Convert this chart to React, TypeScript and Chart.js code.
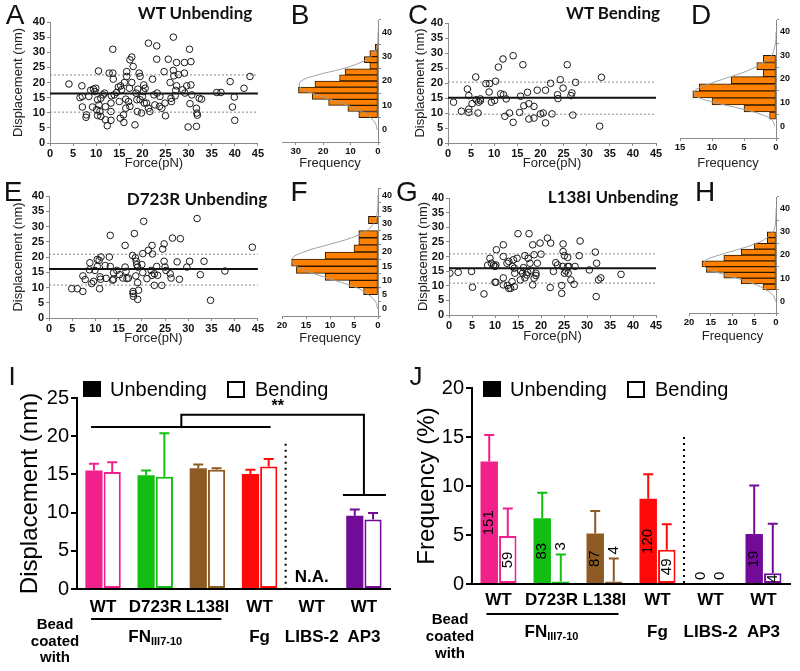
import React, { useEffect, useRef } from 'react';
import { Chart, registerables } from 'chart.js';
Chart.register(...registerables);

const SANS = '"Liberation Sans", Arial, Helvetica, sans-serif';
const TITLE_FONT = 'Lato, "Open Sans", sans-serif';

type Pt = [number, number];

// ---------- Scatter data: [force (pN), displacement (nm)] ----------
const wtUnbendingPoints: Pt[] = [
  [4.1, 19.5], [6.9, 18.9], [6.5, 15], [7, 15.4], [7, 11.9], [7.9, 9.3], [7.8, 8.5], [8.4, 15.4], [8.8, 17.4], [9.4, 17.8],
  [9.9, 18.1], [9.7, 17], [9.2, 11.9], [10.1, 11], [10.6, 12.6], [10.3, 9.1], [11, 8.8], [10.5, 23.8], [10.3, 14.3], [11, 14.8],
  [11.5, 15.9], [11.8, 16.5], [10.8, 10.4], [12, 12], [12, 7.7], [12.4, 5.7], [12.8, 23.1], [13.6, 31], [13.6, 23.1], [13.7, 21.1],
  [13.3, 15.6], [13.2, 13.2], [13.2, 10.4], [13.2, 7.5], [13.9, 15.9], [14.4, 16.7], [14.8, 18.5], [15.3, 18.9], [15.5, 17.6], [15, 13.7],
  [15.2, 8.2], [15.9, 9.3], [16, 6.8], [16.1, 20], [16.6, 22], [16.6, 23.6], [16.4, 14.5], [16.4, 11.5], [17, 13.7], [17.3, 12.1],
  [17.2, 18.1], [17.7, 20], [17.3, 27.5], [17.7, 28.4], [18, 25.3], [18.4, 6], [18.6, 16.5], [18.8, 14.3], [18.9, 10.4], [19, 17.8],
  [19.3, 23.1], [19.5, 22], [19.5, 14.3], [19.8, 9.9], [20, 15.4], [20.2, 17], [20.3, 19.2], [20.6, 18.1], [20.4, 13.2], [20.9, 13.2],
  [21.3, 33], [21.3, 11.5], [21.6, 10.4], [22.2, 21.1], [22.5, 15.9], [22.7, 12.6], [23.1, 32.1], [23.1, 27.7], [23.2, 16.5], [23.7, 12.1],
  [23.8, 15.4], [24.2, 11.5], [24.7, 23.6], [24.9, 13.2], [25, 9], [25.6, 27.7], [26, 20], [26.2, 14.8], [26.3, 13.7], [26.7, 35],
  [26.7, 24], [26.8, 22.2], [27.1, 15.6], [27.2, 17.4], [27.4, 26.6], [27.4, 18.9], [27.8, 22.6], [28.7, 17.6], [29.1, 26.6], [29.1, 23.1],
  [29.2, 16.5], [29.6, 18.9], [29.9, 5.3], [30.2, 31], [30.3, 13], [30.5, 26.9], [30.5, 19.2], [30.7, 15.9], [31.7, 5.5], [31.7, 11.5],
  [31.8, 9.9], [31.9, 9.2], [32.3, 14.8], [32.8, 14.5], [36.1, 16.7], [37, 16.7], [39, 20.3], [39.9, 15.2], [39.5, 11.9], [40, 7.5],
  [42, 18.1], [43.3, 22],
];

const wtBendingPoints: Pt[] = [
  [1.2, 13.6], [2.9, 10.6], [4.2, 18], [4.5, 15.8], [4.5, 11.3], [4.5, 10.2], [5.2, 13.1], [6, 22], [6.1, 14.4], [6.5, 10],
  [6.6, 13.6], [7, 14.7], [7, 14.1], [8.2, 19.8], [9, 19.8], [8.9, 17], [9.4, 13.6], [10.1, 14.2], [10.3, 20.6], [10.9, 25.3],
  [11.4, 16.4], [11.9, 28], [12, 16.1], [12.3, 8.9], [12.6, 14.7], [13.3, 10], [14.1, 29.1], [14.1, 6.9], [15.5, 10.2], [15.7, 15.6],
  [16.2, 26.1], [16.4, 12.4], [17.2, 16.9], [17.5, 13.1], [17.5, 8], [18.6, 8.3], [18.6, 12.2], [19.3, 17.6], [20, 9.7], [20.6, 10],
  [21.1, 17.6], [21.1, 6.7], [22.2, 19.9], [22.5, 9.7], [23.7, 16.1], [23.8, 14.8], [24.3, 21.1], [24.9, 18.3], [25.8, 26.1], [26.6, 15.8],
  [26.8, 16.7], [27, 9.3], [27.6, 20.2], [32.8, 5.6], [33.2, 21.9],
];

const d723rUnbendingPoints: Pt[] = [
  [4.9, 9.6], [6.1, 9.6], [7.3, 8.7], [7.3, 13.8], [7.8, 12.6], [8.7, 15.8], [8.8, 18.1], [9.2, 11.3], [9.6, 12], [9.9, 15.6],
  [10.4, 16.9], [10.4, 19.2], [10.8, 18.9], [11.2, 20], [11, 13.5], [10.9, 9.6], [11.1, 12.7], [12.1, 17.2], [12.3, 13], [13, 20],
  [13.2, 27.1], [13.2, 16.9], [13.7, 12.4], [13.9, 14.8], [13.9, 12.7], [14.6, 15.6], [15.2, 14.2], [15.9, 13.1], [16.4, 23.8], [16.4, 16.7],
  [16.6, 15.3], [16.8, 12.9], [17.1, 13.1], [18, 20.5], [18.1, 8.7], [18.1, 8], [18.2, 7.1], [18.4, 27.7], [18.6, 19.7], [18.7, 13.8],
  [18.8, 18.6], [18.9, 17.5], [19.1, 11.6], [19.1, 6.1], [19.3, 9.1], [19.1, 16.7], [20, 17.5], [20.2, 14.9], [20.4, 31.7], [20.2, 21.1],
  [21.1, 12.9], [21.4, 22.2], [22, 15.6], [22.2, 14], [22.2, 23.8], [22.3, 21], [22.7, 14.5], [22.7, 10.7], [23.2, 16.9], [23.4, 14],
  [24.3, 10.7], [24.5, 22.6], [24.8, 24.3], [24.8, 18.6], [25, 16.7], [25.2, 15.6], [26.1, 14.5], [26.3, 13.1], [26.6, 26.2], [27.6, 18.4],
  [28.1, 12.7], [28.3, 26], [29.7, 16.7], [30.3, 18.6], [31.9, 32.6], [32.6, 14.2], [33.4, 18.6], [34.8, 5.8], [37.9, 15.4], [43.8, 23.2],
];

const l138iUnbendingPoints: Pt[] = [
  [0.2, 14.3], [2, 14.6], [5.1, 9.5], [4.9, 14.9], [7.6, 7.2], [8.4, 17], [8.9, 19.4], [9.2, 17.7], [9.7, 17.1], [10, 16.6],
  [10, 11.2], [10.2, 17.1], [10.3, 22.3], [10.2, 11.2], [11.8, 20], [11.8, 24], [11.8, 12.7], [11.8, 10.3], [12.6, 17.7], [13, 18.3],
  [12.7, 10.1], [13, 9.1], [13.4, 9.1], [13.7, 11.4], [13.8, 16.6], [14.2, 9.7], [14, 18.9], [14.3, 14.3], [14.2, 16], [14.8, 19.4],
  [15, 27.8], [15.5, 12], [15.6, 15.1], [16, 14.3], [16.2, 16.2], [16.5, 20.3], [16.5, 12.7], [16.9, 13.7], [17.1, 14.6], [17.2, 19.4],
  [17.4, 27.8], [17.6, 17.7], [17.8, 15.1], [18.2, 24], [18.2, 10.3], [18.5, 12.6], [18.5, 20.6], [18.9, 14.3], [18.9, 13.5], [19.2, 17.7],
  [19.8, 24.6], [20, 20.8], [22, 9.4], [21.4, 26.3], [22.1, 24.6], [22.7, 14.9], [23.2, 17.9], [23.6, 17.1], [24.5, 10.1], [24.5, 7.4],
  [24.7, 16.6], [24.8, 24.3], [24.8, 21.7], [25.1, 20.3], [25.1, 14.3], [25.4, 15.1], [25.8, 19.7], [25.8, 16.6], [25.9, 14.3], [26.1, 16.6],
  [26.5, 12], [27.2, 10.5], [27.4, 16.6], [28.3, 20.3], [28.5, 25.3], [30.5, 15.4], [31.8, 21.5], [32, 6.3], [32.1, 17.7], [32.5, 12],
  [33, 12.7], [37.4, 13.9],
];

// mean, lower dotted, upper dotted (nm)
const wtUnbendingLines = [16.4, 10.2, 22.5];
const wtBendingLines = [15.1, 9.6, 20.3];
const d723rUnbendingLines = [16.1, 10.8, 20.9];
const l138iUnbendingLines = [16.0, 10.9, 20.9];

// ---------- Histograms (bin lower edge in nm, counts) ----------
const wtUnbendingBinLow = [5, 7.5, 10, 12.5, 15, 17.5, 20, 22.5, 25, 27.5, 30, 32.5];
const wtUnbendingCounts = [7, 11, 18, 24, 29, 23, 14, 12, 3, 5, 3, 1];
const wtBendingBinLow = [3, 6, 9, 12, 15, 18, 21, 24, 27];
const wtBendingCounts = [1, 5, 10, 13, 12, 7, 2, 3, 2];
const d723rBinLow = [5, 7.5, 10, 12.5, 15, 17.5, 20, 22.5, 25, 27.5, 30];
const d723rCounts = [3, 6, 11, 17, 18, 11, 5, 4, 4, 0, 2];
const l138iBinLow = [5, 7.5, 10, 12.5, 15, 17.5, 20, 22.5, 25, 27.5];
const l138iCounts = [3, 8, 12, 16, 17, 12, 8, 5, 2, 2];

// Gaussian fit curves (frequency at each displacement level)
const curveLevels = [0, 2.5, 5, 7.5, 10, 12.5, 15, 17.5, 20, 22.5, 25, 27.5, 30, 32.5, 35, 37.5, 40];
const wtUnbendingCurve = [0.3, 0.9, 2.8, 6, 11, 17.5, 24, 28.5, 28, 22, 13, 6.5, 2.6, 0.8, 0.2, 0, 0];
const wtBendingCurve = [0.2, 0.6, 2.3, 5.6, 9.5, 12.3, 12.7, 10.8, 8.2, 5.4, 3.2, 1.7, 0.7, 0.3, 0.1, 0, 0];
const d723rCurve = [0.1, 0.5, 2, 4.5, 9, 13.5, 17, 18, 15.5, 10.5, 5.5, 2.4, 0.9, 0.3, 0.1, 0, 0];
const l138iCurve = [0.1, 0.6, 2.3, 5, 9, 13.5, 16.5, 16.3, 13, 8.5, 4.5, 2, 0.7, 0.2, 0.1, 0, 0];

// ---------- Panels I and J ----------
const beadCategories = ['WT', 'D723R', 'L138I', 'WT', 'WT', 'WT'];
const barColors = ['#F2208B', '#12BE12', '#8C5A22', '#FF0A0A', '#720C98', '#720C98'];

const dispUnbending = [15.5, 14.9, 15.8, 15.05, null, 9.6];
const dispUnbendingSem = [0.9, 0.6, 0.5, 0.55, null, 0.8];
const dispBending = [15.3, 14.7, 15.6, 16.05, null, 9.1];
const dispBendingSem = [1.3, 5.7, 0.2, 0.95, null, 0.85];
const dispBracket = [21.2, 22.8, 12.3]; // low bar, high bar, AP3 end

const freqUnbending = [12.5, 6.7, 5.15, 8.7, 0, 5.1];
const freqUnbendingSem = [2.7, 2.6, 2.3, 2.5, 0, 4.95];
const freqBending = [4.9, 0.25, 0.25, 3.5, 0, 1.1];
const freqBendingSem = [2.8, 2.75, 2.35, 2.6, 0, 5.05];
const eventsUnbending = [151, 83, 87, 120, 0, 19];
const eventsBending = [59, 3, 4, 49, 0, 4];

const AXIS_GREY = '#8a8a8a';

function scatterConfig(points: Pt[], lines: number[], g: any) {
  const [mean, lo, hi] = lines;
  const hline = (v: number, color: string, width: number, dash: number[]) => ({
    type: 'line', data: [{ x: 0, y: v }, { x: 45, y: v }], borderColor: color, borderWidth: width,
    borderDash: dash, pointRadius: 0, fill: false,
  });
  return {
    type: 'scatter',
    data: {
      datasets: [
        {
          type: 'scatter', data: points.map(([x, y]) => ({ x, y })), pointRadius: 3.3, pointHoverRadius: 3.3,
          borderWidth: 1, borderColor: '#1a1a1a', backgroundColor: 'rgba(255,255,255,0)',
        },
        hline(mean, '#111', 2, []),
        hline(lo, '#8a8a8a', 1, [2, 2]),
        hline(hi, '#8a8a8a', 1, [2, 2]),
      ],
    },
    options: {
      responsive: false, animation: false, devicePixelRatio: 1,
      layout: { padding: { left: 0, top: g.padTop, right: g.padRight, bottom: 0 } },
      plugins: { legend: { display: false }, tooltip: { enabled: false } },
      scales: {
        x: {
          type: 'linear', min: 0, max: 45,
          ticks: { stepSize: 5, color: '#111', font: { family: SANS, size: 11, weight: 'bold' }, padding: 1, maxRotation: 0, autoSkip: false },
          grid: { drawOnChartArea: false, drawTicks: true, tickLength: 3, color: AXIS_GREY },
          border: { color: AXIS_GREY, width: 1 },
          title: { display: true, text: 'Force(pN)', color: '#222', font: { family: SANS, size: 13 }, padding: { top: 0, bottom: g.xTitlePad } },
          afterFit: (s: any) => { s.height = g.xHeight; },
        },
        y: {
          type: 'linear', min: 0, max: 40,
          ticks: { stepSize: 5, color: '#111', font: { family: SANS, size: 11, weight: 'bold' }, padding: 2, autoSkip: false },
          grid: { drawOnChartArea: false, drawTicks: true, tickLength: 3, color: AXIS_GREY },
          border: { color: AXIS_GREY, width: 1 },
          title: { display: true, text: 'Displacement (nm)', color: '#222', font: { family: SANS, size: 13 }, padding: { top: g.yTitlePad, bottom: 0 } },
          afterFit: (s: any) => { s.width = g.yWidth; },
        },
      },
    },
  };
}

function histConfig(binLow: number[], counts: number[], binWidth: number, curve: number[], xMax: number, xStep: number, g: any) {
  return {
    type: 'bar',
    data: {
      datasets: [
        {
          type: 'line', data: curveLevels.map((y, i) => ({ x: curve[i], y })), borderColor: '#a0a0a0',
          borderWidth: 1, pointRadius: 0, tension: 0.4, fill: false,
        },
        {
          type: 'bar', data: binLow.map((l, i) => ({ x: counts[i], y: l + binWidth / 2 })),
          backgroundColor: '#FF8000', borderColor: '#2a1800', borderWidth: 1, borderSkipped: false,
          barPercentage: 1, categoryPercentage: 1,
        },
      ],
    },
    options: {
      indexAxis: 'y', responsive: false, animation: false, devicePixelRatio: 1,
      layout: { padding: { left: g.padLeft, top: g.padTop, right: 0, bottom: 0 } },
      plugins: { legend: { display: false }, tooltip: { enabled: false } },
      scales: {
        x: {
          type: 'linear', reverse: true, min: 0, max: xMax,
          ticks: { stepSize: xStep, includeBounds: false, color: '#111', font: { family: SANS, size: 9.5, weight: 'bold' }, padding: 1, maxRotation: 0 },
          grid: { drawOnChartArea: false, drawTicks: true, tickLength: 3, color: AXIS_GREY },
          border: { color: AXIS_GREY, width: 1 },
          title: { display: true, text: 'Frequency', color: '#222', font: { family: SANS, size: 13 }, padding: { top: 0, bottom: g.xTitlePad } },
          afterFit: (s: any) => { s.height = g.xHeight; },
        },
        y: {
          type: 'linear', position: 'right', min: 0, max: 40,
          ticks: { stepSize: 5, color: '#111', font: { family: SANS, size: 9, weight: 'bold' }, padding: 1 },
          grid: { drawOnChartArea: false, drawTicks: true, tickLength: 3, color: AXIS_GREY },
          border: { color: AXIS_GREY, width: 1 },
          afterFit: (s: any) => { s.width = g.yWidth; },
        },
      },
    },
  };
}

function drawErrorBars(chart: any, errs: any[][]) {
  const { ctx } = chart;
  const ys = chart.scales.y;
  errs.forEach((errArr, d) => {
    const meta = chart.getDatasetMeta(d);
    const vals = chart.data.datasets[d].data;
    meta.data.forEach((el: any, i: number) => {
      const v = vals[i];
      const e = errArr[i];
      if (v == null || e == null || e === 0 || !el || isNaN(el.x)) return;
      const x = el.x;
      const yTop = ys.getPixelForValue(v + e);
      const yBar = ys.getPixelForValue(v);
      ctx.save();
      ctx.strokeStyle = barColors[i];
      ctx.lineWidth = 2;
      ctx.beginPath();
      ctx.moveTo(x, yBar);
      ctx.lineTo(x, yTop);
      ctx.moveTo(x - 5, yTop);
      ctx.lineTo(x + 5, yTop);
      ctx.stroke();
      ctx.restore();
    });
  });
}

function drawLegend(ctx: any, x: number, y: number) {
  ctx.save();
  ctx.fillStyle = '#000';
  ctx.fillRect(x, y - 8, 18, 16);
  ctx.font = `20px ${SANS}`;
  ctx.textBaseline = 'middle';
  ctx.textAlign = 'left';
  ctx.fillText('Unbending', x + 27, y + 1);
  ctx.lineWidth = 2;
  ctx.strokeStyle = '#000';
  ctx.strokeRect(x + 145, y - 7, 16, 15);
  ctx.fillText('Bending', x + 172, y + 1);
  ctx.restore();
}

function drawCategoryText(chart: any, g: any) {
  const { ctx } = chart;
  const xs = chart.scales.x;
  const cx = (i: number) => xs.getPixelForValue(i);
  ctx.save();
  ctx.fillStyle = '#000';
  ctx.textAlign = 'center';
  ctx.textBaseline = 'middle';
  ctx.font = `bold 17px ${SANS}`;
  beadCategories.forEach((c, i) => ctx.fillText(c, cx(i), g.row1Y));
  // FN line
  ctx.strokeStyle = '#000';
  ctx.lineWidth = 2;
  ctx.beginPath();
  ctx.moveTo(cx(0) - 12, g.fnLineY);
  ctx.lineTo(cx(2) + 14, g.fnLineY);
  ctx.stroke();
  // FN III7-10 with subscript
  ctx.font = `bold 17px ${SANS}`;
  const w1 = ctx.measureText('FN').width;
  ctx.font = `bold 11px ${SANS}`;
  const w2 = ctx.measureText('III7-10').width;
  const start = cx(1) - (w1 + w2) / 2;
  ctx.textAlign = 'left';
  ctx.font = `bold 17px ${SANS}`;
  ctx.fillText('FN', start, g.row2Y);
  ctx.font = `bold 11px ${SANS}`;
  ctx.fillText('III7-10', start + w1, g.row2Y + 5);
  ctx.textAlign = 'center';
  ctx.font = `bold 17px ${SANS}`;
  ctx.fillText('Fg', cx(3), g.row2Y);
  ctx.fillText('LIBS-2', cx(4), g.row2Y);
  ctx.fillText('AP3', cx(5), g.row2Y);
  ctx.font = `bold 15px ${SANS}`;
  ['Bead', 'coated', 'with'].forEach((t, i) => ctx.fillText(t, g.beadX, g.beadY[i]));
  // y title
  ctx.save();
  ctx.translate(g.titleX, (chart.chartArea.top + chart.chartArea.bottom) / 2);
  ctx.rotate(-Math.PI / 2);
  ctx.font = `24px ${SANS}`;
  ctx.fillText(g.title, 0, 0);
  ctx.restore();
  // dotted divider
  const dx = (cx(3) + cx(4)) / 2;
  const ys = chart.scales.y;
  ctx.setLineDash([2, 4]);
  ctx.lineWidth = 2;
  ctx.beginPath();
  ctx.moveTo(dx, ys.getPixelForValue(g.dividerTop));
  ctx.lineTo(dx, ys.getPixelForValue(0));
  ctx.stroke();
  ctx.setLineDash([]);
  ctx.restore();
  drawLegend(ctx, g.legendX, g.legendY);
}

const iGeom = {
  row1Y: 235, fnLineY: 247, row2Y: 265, beadX: 55, beadY: [253, 270, 286], title: 'Displacement (nm)',
  titleX: 30, dividerTop: 19, legendX: 83, legendY: 17,
};
const jGeom = {
  row1Y: 228, fnLineY: 242, row2Y: 260, beadX: 55, beadY: [248, 265, 282], title: 'Frequency (%)',
  titleX: 32, dividerTop: 15, legendX: 88, legendY: 17,
};

const iPlugin = {
  id: 'iAnnot',
  afterDatasetsDraw(chart: any) {
    const { ctx } = chart;
    const xs = chart.scales.x;
    const ys = chart.scales.y;
    drawErrorBars(chart, [dispUnbendingSem, dispBendingSem]);
    drawCategoryText(chart, iGeom);
    const cx = (i: number) => xs.getPixelForValue(i);
    const [low, high, end] = dispBracket;
    const yl = ys.getPixelForValue(low);
    const yh = ys.getPixelForValue(high);
    const ye = ys.getPixelForValue(end);
    const xm = (cx(1) + cx(2)) / 2;
    ctx.save();
    ctx.strokeStyle = '#000';
    ctx.lineWidth = 2;
    ctx.beginPath();
    ctx.moveTo(cx(0) - 12, yl);
    ctx.lineTo(cx(3) + 11, yl);
    ctx.moveTo(xm, yl);
    ctx.lineTo(xm, yh);
    ctx.lineTo(cx(5), yh);
    ctx.lineTo(cx(5), ye);
    ctx.moveTo(cx(5) - 21, ye);
    ctx.lineTo(cx(5) + 22, ye);
    ctx.stroke();
    ctx.fillStyle = '#000';
    ctx.textAlign = 'center';
    ctx.textBaseline = 'middle';
    ctx.font = `bold 16px ${SANS}`;
    ctx.fillText('**', (cx(3) + cx(4)) / 2 - 8, ys.getPixelForValue(high) - 8);
    ctx.font = `bold 17px ${SANS}`;
    ctx.fillText('N.A.', cx(4), ys.getPixelForValue(1.5));
    ctx.restore();
  },
};

function vText(ctx: any, text: string, x: number, y: number) {
  ctx.save();
  ctx.translate(x, y);
  ctx.rotate(-Math.PI / 2);
  ctx.textAlign = 'center';
  ctx.textBaseline = 'middle';
  ctx.fillText(text, 0, 0);
  ctx.restore();
}

const jPlugin = {
  id: 'jAnnot',
  afterDatasetsDraw(chart: any) {
    const { ctx } = chart;
    const ys = chart.scales.y;
    drawErrorBars(chart, [freqUnbendingSem, freqBendingSem]);
    drawCategoryText(chart, jGeom);
    ctx.save();
    ctx.fillStyle = '#000';
    ctx.font = `15px ${SANS}`;
    [[freqUnbending, freqUnbendingSem, eventsUnbending], [freqBending, freqBendingSem, eventsBending]].forEach((set, d) => {
      const [vals, errs, counts] = set as number[][];
      const meta = chart.getDatasetMeta(d);
      meta.data.forEach((el: any, i: number) => {
        const text = String(counts[i]);
        const len = ctx.measureText(text).width;
        const y0 = ys.getPixelForValue(0);
        const yv = ys.getPixelForValue(vals[i]);
        const barH = y0 - yv;
        let yc;
        if (barH >= len + 2) yc = (y0 + yv) / 2;
        else yc = ys.getPixelForValue(vals[i] + errs[i]) - 4 - len / 2;
        vText(ctx, text, el.x, yc);
      });
    });
    ctx.restore();
  },
};

function barConfig(unb: any[], bend: any[], yMax: number, g: any, plugin: any) {
  return {
    type: 'bar',
    data: {
      labels: beadCategories,
      datasets: [
        {
          label: 'Unbending', data: unb, backgroundColor: barColors, borderColor: barColors, borderWidth: 0,
          categoryPercentage: 0.7, barPercentage: 0.94,
        },
        {
          label: 'Bending', data: bend, backgroundColor: '#ffffff', borderColor: barColors, borderWidth: 2,
          borderSkipped: false, categoryPercentage: 0.7, barPercentage: 0.94,
        },
      ],
    },
    options: {
      responsive: false, animation: false, devicePixelRatio: 1,
      layout: { padding: { left: 0, top: g.padTop, right: g.padRight, bottom: 0 } },
      plugins: { legend: { display: false }, tooltip: { enabled: false } },
      scales: {
        x: {
          type: 'category', ticks: { display: false }, grid: { display: false },
          border: { display: true, color: '#000', width: 2 },
          afterFit: (s: any) => { s.height = g.xHeight; },
        },
        y: {
          min: 0, max: yMax,
          ticks: { stepSize: 5, color: '#000', font: { family: SANS, size: 20 }, padding: 2 },
          grid: { drawOnChartArea: false, drawTicks: true, tickLength: 6, color: '#000', lineWidth: 2 },
          border: { color: '#000', width: 2 },
          afterFit: (s: any) => { s.width = g.yWidth; },
        },
      },
    },
    plugins: [plugin],
  };
}

function ChartBox(props: { left: number; top: number; width: number; height: number; config: () => any }) {
  const ref = useRef<HTMLCanvasElement | null>(null);
  useEffect(() => {
    if (!ref.current) return;
    const chart = new Chart(ref.current, props.config() as any);
    return () => chart.destroy();
  }, []);
  return (
    <canvas
      ref={ref}
      width={props.width}
      height={props.height}
      style={{ position: 'absolute', left: props.left, top: props.top, width: props.width, height: props.height }}
    />
  );
}

function Text(props: { x: number; y: number; text: string; size: number; bold?: boolean; family?: string }) {
  return (
    <div
      style={{
        position: 'absolute', left: props.x, top: props.y, transform: 'translate(-50%, -50%)',
        font: `${props.bold ? 'bold ' : ''}${props.size}px ${props.family || SANS}`, whiteSpace: 'nowrap',
        lineHeight: 1, color: '#111',
      }}
    >
      {props.text}
    </div>
  );
}

export default function App() {
  return (
    <div style={{ position: 'absolute', left: 0, top: 0, width: 800, height: 671, background: '#fff', overflow: 'hidden' }}>
      <ChartBox left={0} top={0} width={265} height={175}
        config={() => scatterConfig(wtUnbendingPoints, wtUnbendingLines, { padTop: 22, padRight: 7, yWidth: 50, xHeight: 32, xTitlePad: 4, yTitlePad: 11 })} />
      <ChartBox left={265} top={0} width={135} height={175}
        config={() => histConfig(wtUnbendingBinLow, wtUnbendingCounts, 2.5, wtUnbendingCurve, 35, 10, { padLeft: 17, padTop: 20, yWidth: 22, xHeight: 33, xTitlePad: 4 })} />
      <ChartBox left={395} top={0} width={270} height={175}
        config={() => scatterConfig(wtBendingPoints, wtBendingLines, { padTop: 23, padRight: 9, yWidth: 53, xHeight: 32, xTitlePad: 4, yTitlePad: 18 })} />
      <ChartBox left={665} top={0} width={135} height={175}
        config={() => histConfig(wtBendingBinLow, wtBendingCounts, 3, wtBendingCurve, 15, 5, { padLeft: 15, padTop: 20, yWidth: 24, xHeight: 37, xTitlePad: 4 })} />

      <ChartBox left={0} top={175} width={265} height={175}
        config={() => scatterConfig(d723rUnbendingPoints, d723rUnbendingLines, { padTop: 21, padRight: 7, yWidth: 49, xHeight: 32, xTitlePad: 4, yTitlePad: 11 })} />
      <ChartBox left={265} top={175} width={135} height={175}
        config={() => histConfig(d723rBinLow, d723rCounts, 2.5, d723rCurve, 20, 5, { padLeft: 17, padTop: 13, yWidth: 22, xHeight: 34, xTitlePad: 4 })} />
      <ChartBox left={395} top={175} width={270} height={175}
        config={() => scatterConfig(l138iUnbendingPoints, l138iUnbendingLines, { padTop: 23, padRight: 9, yWidth: 54, xHeight: 35, xTitlePad: 6, yTitlePad: 21 })} />
      <ChartBox left={665} top={175} width={135} height={175}
        config={() => histConfig(l138iBinLow, l138iCounts, 2.5, l138iCurve, 20, 5, { padLeft: 24, padTop: 22, yWidth: 24, xHeight: 37, xTitlePad: 6 })} />

      <ChartBox left={0} top={372} width={395} height={299}
        config={() => barConfig(dispUnbending, dispBending, 25, { padTop: 26, padRight: 5, yWidth: 77, xHeight: 82 }, iPlugin)} />
      <ChartBox left={395} top={372} width={405} height={299}
        config={() => barConfig(freqUnbending, freqBending, 20, { padTop: 16, padRight: 10, yWidth: 77, xHeight: 87 }, jPlugin)} />

      <Text x={15} y={15} text="A" size={28} />
      <Text x={300} y={15} text="B" size={28} />
      <Text x={418} y={15} text="C" size={28} />
      <Text x={701} y={15} text="D" size={28} />
      <Text x={13} y={192} text="E" size={28} />
      <Text x={299} y={192} text="F" size={28} />
      <Text x={407} y={192} text="G" size={28} />
      <Text x={705} y={192} text="H" size={28} />
      <Text x={12} y={376} text="I" size={26} />
      <Text x={416} y={376} text="J" size={26} />

      <Text x={195} y={12} text="WT Unbending" size={17} bold family={TITLE_FONT} />
      <Text x={613} y={12} text="WT Bending" size={17} bold family={TITLE_FONT} />
      <Text x={197} y={198} text="D723R Unbending" size={17} bold family={TITLE_FONT} />
      <Text x={613} y={196} text="L138I Unbending" size={17} bold family={TITLE_FONT} />
    </div>
  );
}
